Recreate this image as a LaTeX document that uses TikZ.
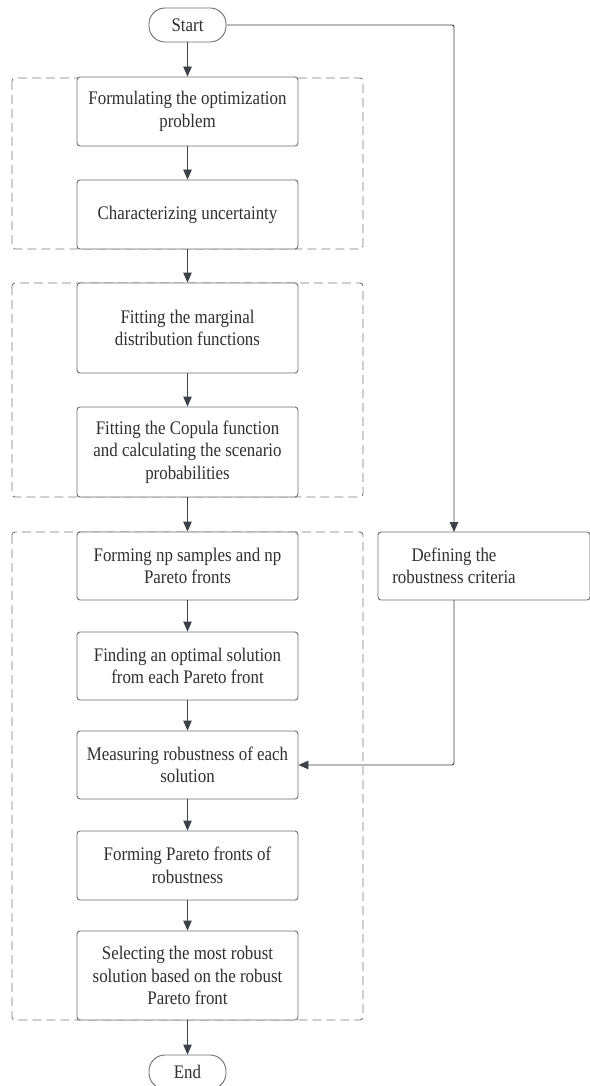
\documentclass[tikz,border=0pt]{standalone}
\usepackage{fontspec}
\setmainfont{Liberation Serif}[FakeStretch=0.88]
\usetikzlibrary{arrows.meta}
\definecolor{txtc}{HTML}{303030}
\definecolor{boxc}{HTML}{6E6E6E}
\definecolor{arrc}{HTML}{3C4048}
\definecolor{dashc}{HTML}{7C7C7C}
\tikzset{
  every node/.style={font=\fontsize{19.2}{22.5}\selectfont, text=txtc},
  proc/.style={draw=boxc, line width=0.9pt, rounded corners=3pt, fill=white,
    minimum width=221pt, align=center, inner sep=0pt},
  term/.style={draw=boxc, line width=0.9pt, rounded corners=16pt, fill=white,
    minimum width=77pt, minimum height=34pt, inner sep=0pt},
  grp/.style={draw=dashc, line width=0.9pt, rounded corners=3pt, dash pattern=on 9pt off 5pt},
  txtonly/.style={align=center, inner sep=0pt},
  flow/.style={draw=arrc, line width=0.9pt, -{Triangle[length=10pt,width=8.5pt]}},
  link/.style={draw=boxc, line width=0.9pt, rounded corners=2pt, -{Triangle[length=10pt,width=8.5pt]}, arrc},
}
\begin{document}
\begin{tikzpicture}[x=1pt,y=-1pt]
\useasboundingbox[fill=white] (0,0) rectangle (589,1086);
% dashed groups
\draw[grp] (12,78) rectangle (363,249);
\draw[grp] (12,283) rectangle (363,497);
\draw[grp] (12,532) rectangle (363,1020);
% terminals and steps
\node[term] (start) at (187.5,25) {Start};
\node[proc, minimum height=69pt] (b1) at (187.5,111.5) {Formulating the optimization\\problem};
\node[proc, minimum height=69pt] (b2) at (187.5,214.5) {Characterizing uncertainty};
\node[proc, minimum height=90pt] (b3) at (187.5,328) {Fitting the marginal\\distribution functions};
\node[proc, minimum height=90pt] (b4) at (187.5,452) {Fitting the Copula function\\and calculating the scenario\\probabilities};
\node[proc, minimum height=68pt] (b5) at (187.5,566) {Forming np samples and np\\Pareto fronts};
\node[proc, minimum height=68pt] (b6) at (187.5,666) {Finding an optimal solution\\from each Pareto front};
\node[proc, minimum height=68pt] (b7) at (187.5,765) {Measuring robustness of each\\solution};
\node[proc, minimum height=69pt] (b8) at (187.5,865.5) {Forming Pareto fronts of\\robustness};
\node[proc, minimum height=89pt] (b9) at (187.5,975.5) {Selecting the most robust\\solution based on the robust\\Pareto front};
\node[term] (end) at (187.5,1072) {End};
% side branch
\node[proc, minimum width=212pt, minimum height=68pt] (def) at (484,566) {};
\node[txtonly] (deft) at (454,566) {Defining the\\robustness criteria};
\coordinate (defin) at (454,532);
\coordinate (defout) at (454,600);
% main flow
\draw[flow] (start) -- (b1);
\draw[flow] (b1) -- (b2);
\draw[flow] (b2) -- (b3);
\draw[flow] (b3) -- (b4);
\draw[flow] (b4) -- (b5);
\draw[flow] (b5) -- (b6);
\draw[flow] (b6) -- (b7);
\draw[flow] (b7) -- (b8);
\draw[flow] (b8) -- (b9);
\draw[flow] (b9) -- (end);
% branch connectors
\draw[link] (start.east) -| (defin);
\draw[link] (defout) |- (b7.east);
\end{tikzpicture}
\end{document}
